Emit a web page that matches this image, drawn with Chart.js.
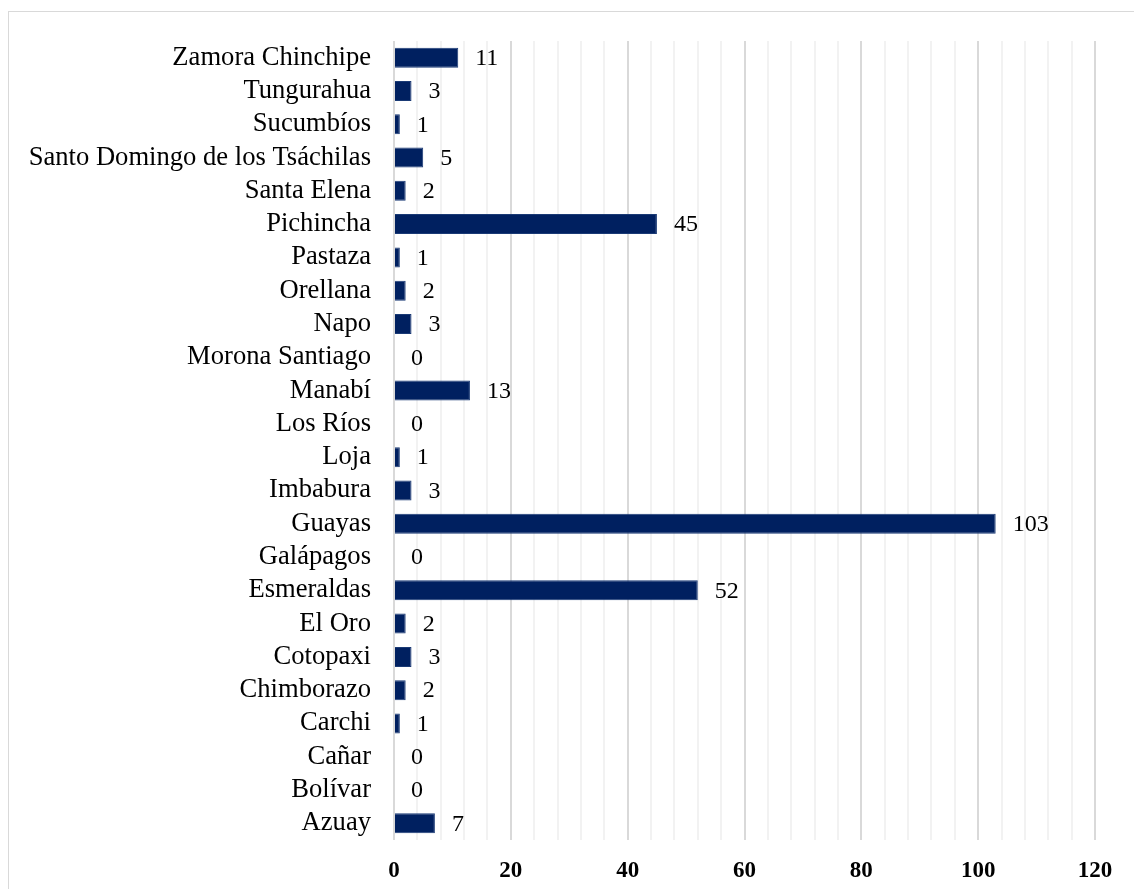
<!DOCTYPE html>
<html>
<head>
<meta charset="utf-8">
<script src="https://cdn.jsdelivr.net/npm/chart.js@4"></script>
<style>
  html, body { margin: 0; padding: 0; background: #fff; overflow: hidden; }
  #frame { position: absolute; left: 8px; top: 11px; width: 1140px; height: 900px; border: 1px solid #d9d9d9; }
  #wrap { position: absolute; left: 0; top: 0; width: 1134px; height: 889px; }
</style>
</head>
<body>
<div id="frame"></div>
<div id="wrap"><canvas id="chart"></canvas></div>
<script>
// Provinces listed bottom to top, as in the original figure
const provinces = [
  'Azuay', 'Bolívar', 'Cañar', 'Carchi', 'Chimborazo', 'Cotopaxi', 'El Oro',
  'Esmeraldas', 'Galápagos', 'Guayas', 'Imbabura', 'Loja', 'Los Ríos', 'Manabí',
  'Morona Santiago', 'Napo', 'Orellana', 'Pastaza', 'Pichincha', 'Santa Elena',
  'Santo Domingo de los Tsáchilas', 'Sucumbíos', 'Tungurahua', 'Zamora Chinchipe'
];
const counts = [7, 0, 0, 1, 2, 3, 2, 52, 0, 103, 3, 1, 0, 13, 0, 3, 2, 1, 45, 2, 5, 1, 3, 11];
const xTicks = [0, 20, 40, 60, 80, 100, 120];

const serif = '"Liberation Serif", "Times New Roman", serif';

// draws the value next to each bar
const valueLabels = {
  id: 'valueLabels',
  afterDatasetsDraw(chart) {
    const ctx = chart.ctx;
    const meta = chart.getDatasetMeta(0);
    ctx.save();
    ctx.font = '24px ' + serif;
    ctx.fillStyle = '#000';
    ctx.textAlign = 'left';
    ctx.textBaseline = 'middle';
    meta.data.forEach((bar, i) => {
      ctx.fillText(String(counts[i]), bar.x + 17, bar.y + 1);
    });
    ctx.restore();
  }
};

new Chart(document.getElementById('chart'), {
  type: 'bar',
  data: {
    labels: provinces,
    datasets: [{
      data: counts,
      backgroundColor: '#002060',
      borderColor: '#1a3a75',
      borderWidth: 1,
      categoryPercentage: 1,
      barPercentage: 0.6,
    }],
  },
  options: {
    indexAxis: 'y',
    responsive: true,
    maintainAspectRatio: false,
    animation: false,
    layout: { padding: { top: 41, right: 39, left: 0, bottom: 0 } },
    plugins: {
      legend: { display: false },
      tooltip: { enabled: false },
    },
    scales: {
      x: {
        min: 0,
        max: 120,
        border: { display: false },
        grid: {
          drawTicks: false,
          color: (c) => (c.tick && xTicks.includes(c.tick.value)) ? '#d9d9d9' : '#f2f2f2',
          lineWidth: 2,
        },
        ticks: {
          stepSize: 4,
          autoSkip: false,
          maxRotation: 0,
          padding: 17,
          color: '#000',
          font: { family: serif, size: 23, weight: 'bold' },
          callback: (v) => xTicks.includes(v) ? String(v) : '',
        },
        afterFit(scale) { scale.height = 49; },
      },
      y: {
        reverse: true,
        border: { display: false },
        grid: { display: false },
        ticks: {
          padding: 15,
          color: '#000',
          autoSkip: false,
          font: { family: serif, size: 26.6 },
        },
        afterFit(scale) { scale.width = 394; },
      },
    },
  },
  plugins: [valueLabels],
});
</script>
</body>
</html>
